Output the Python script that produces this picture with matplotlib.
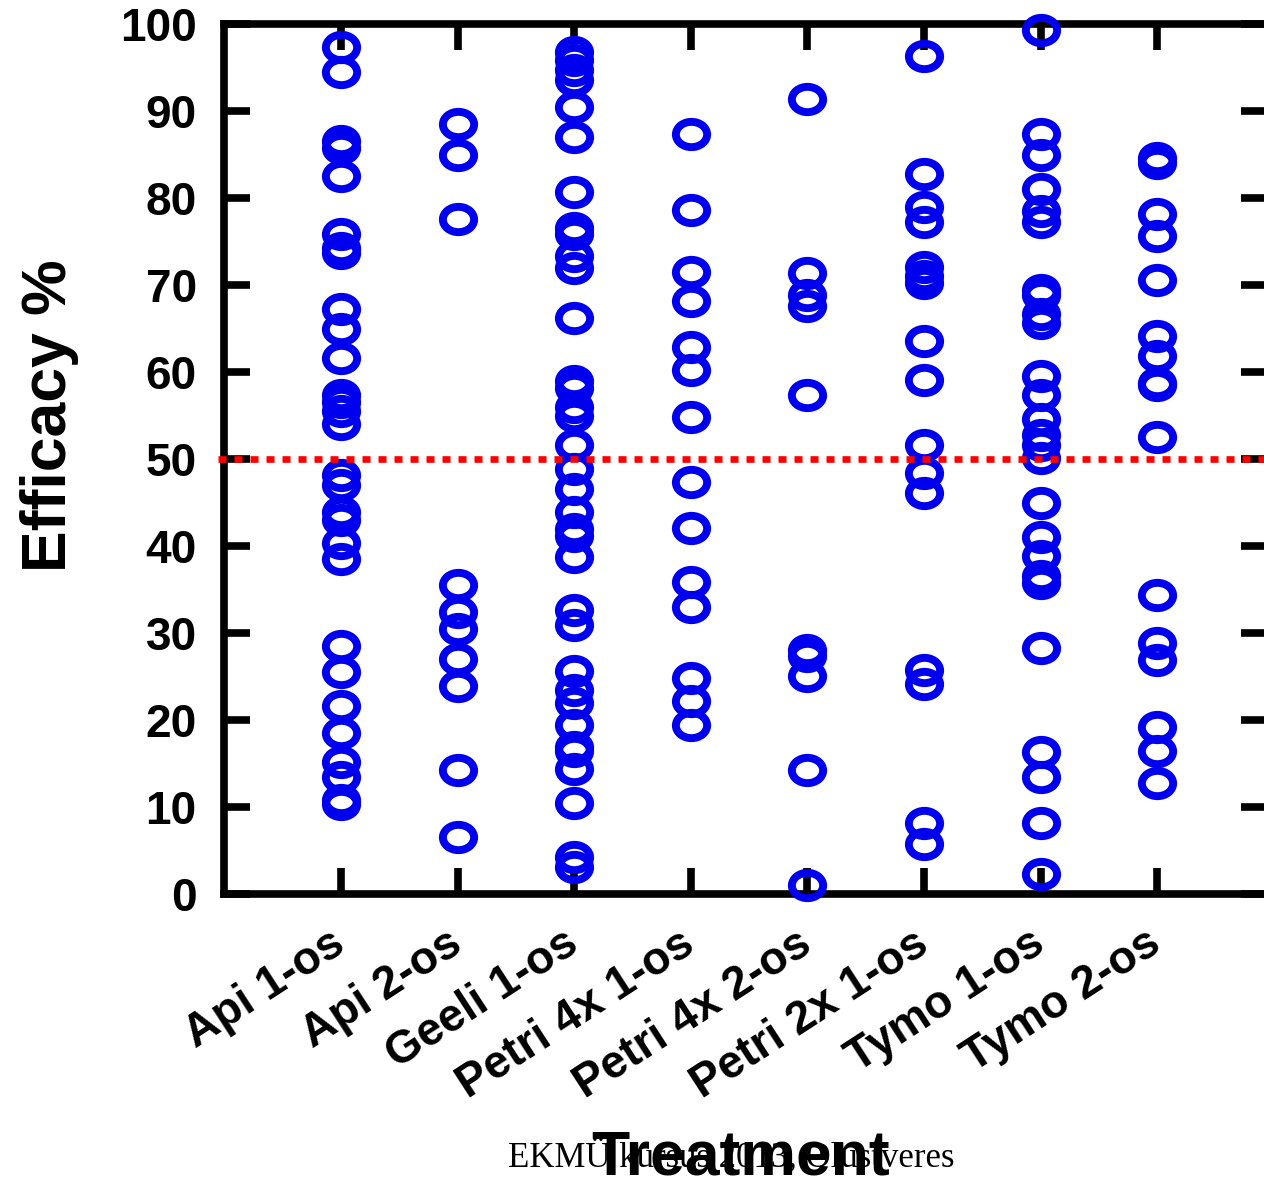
import numpy as np
import matplotlib
matplotlib.use("Agg")
import matplotlib.pyplot as plt
import matplotlib.transforms as mtransforms
from matplotlib.path import Path

treatments = ["Api 1-os", "Api 2-os", "Geeli 1-os", "Petri 4x 1-os",
              "Petri 4x 2-os", "Petri 2x 1-os", "Tymo 1-os", "Tymo 2-os"]

api_1 = [97.4, 94.5, 86.6, 85.7, 82.5, 75.8, 74.2, 73.7, 67.2, 64.9, 61.6,
         57.3, 56.6, 55.5, 54.0, 48.2, 47.0, 43.9, 43.0, 40.3, 38.5, 28.5,
         25.5, 21.6, 18.5, 15.2, 13.5, 10.8, 10.3]
api_2 = [88.5, 84.9, 77.6, 35.5, 32.4, 30.5, 27.0, 23.9, 14.2, 6.5]
geeli_1 = [96.8, 95.9, 94.7, 93.6, 90.5, 87.0, 80.7, 76.6, 75.9, 73.3, 71.9,
           66.2, 59.0, 58.1, 56.0, 54.9, 51.6, 48.8, 46.5, 43.9, 42.0, 41.1,
           38.7, 32.6, 30.9, 25.6, 23.4, 21.9, 19.4, 16.9, 16.4, 14.4, 10.5,
           4.3, 3.1]
petri4_1 = [87.3, 78.6, 71.5, 68.1, 62.9, 60.2, 54.8, 47.3, 42.1, 35.8, 33.0,
            24.8, 22.2, 19.4]
petri4_2 = [91.4, 71.4, 68.9, 67.6, 57.4, 28.0, 27.3, 25.0, 14.2, 1.0]
petri2_1 = [96.3, 82.7, 79.0, 77.2, 72.1, 71.0, 70.2, 63.5, 59.1, 51.6, 48.4,
            46.1, 25.7, 24.1, 8.1, 5.8]
tymo_1 = [99.3, 87.3, 84.9, 81.0, 78.5, 77.2, 69.4, 68.9, 66.7, 65.6, 59.5,
          57.4, 54.6, 52.8, 51.6, 50.1, 44.9, 41.0, 38.8, 36.5, 35.7, 28.3,
          16.3, 13.4, 8.1, 2.3]
tymo_2 = [84.6, 84.0, 78.2, 75.6, 70.6, 64.1, 61.8, 58.7, 58.5, 52.5, 34.4,
          28.8, 26.9, 19.2, 16.4, 12.8]

series = [api_1, api_2, geeli_1, petri4_1, petri4_2, petri2_1, tymo_1, tymo_2]
threshold = 50
y_ticks = list(range(0, 101, 10))

plt.rcParams["font.family"] = ["Liberation Sans", "DejaVu Sans"]
plt.rcParams["font.weight"] = "bold"

# open circles are slightly squashed in the original
ellipse = Path.unit_circle().transformed(mtransforms.Affine2D().scale(1.0, 0.81))

fig = plt.figure(figsize=(12.64, 11.85), dpi=100)
ax = fig.add_axes([0.1776, 0.2456, 0.8245, 0.7342])

for i, values in enumerate(series):
    ax.plot(np.full(len(values), i + 1), values, linestyle="none",
            marker=ellipse, markersize=22.5, markerfacecolor="none",
            markeredgecolor="#0000ee", markeredgewidth=5.7,
            clip_on=False, zorder=4)

ax.axhline(threshold, xmin=-0.006, color="red", linewidth=4.8,
           linestyle=(0, (1.2, 1.2)), dash_capstyle="butt", zorder=5,
           clip_on=False)

ax.set_xlim(0, 8.94)
ax.set_ylim(0, 100)
ax.set_yticks(y_ticks)
ax.set_xticks(range(1, len(treatments) + 1))
ax.set_xticklabels(treatments, rotation=33, ha="right", va="center",
                   rotation_mode="anchor")

for side in ax.spines.values():
    side.set_linewidth(5.5)
ax.tick_params(direction="in", length=18.5, width=5.5, labelsize=33,
               top=True, right=True)
ax.tick_params(axis="y", pad=20)
ax.tick_params(axis="x", pad=33)

ax.set_ylabel("Efficacy %", fontsize=45, fontweight="bold", va="center")
ax.yaxis.set_label_coords(-0.168, 0.55)
ax.set_xlabel("Treatment", fontsize=45, fontweight="bold", va="baseline")
ax.xaxis.set_label_coords(0.4956, -0.323)

fig.text(731 / 1264, 18 / 1185, "EKMÜ kursus 2013, Olustveres",
         family="Liberation Serif", fontsize=25, fontweight="normal",
         ha="center", va="baseline")

fig.savefig("out.png", dpi=100)
